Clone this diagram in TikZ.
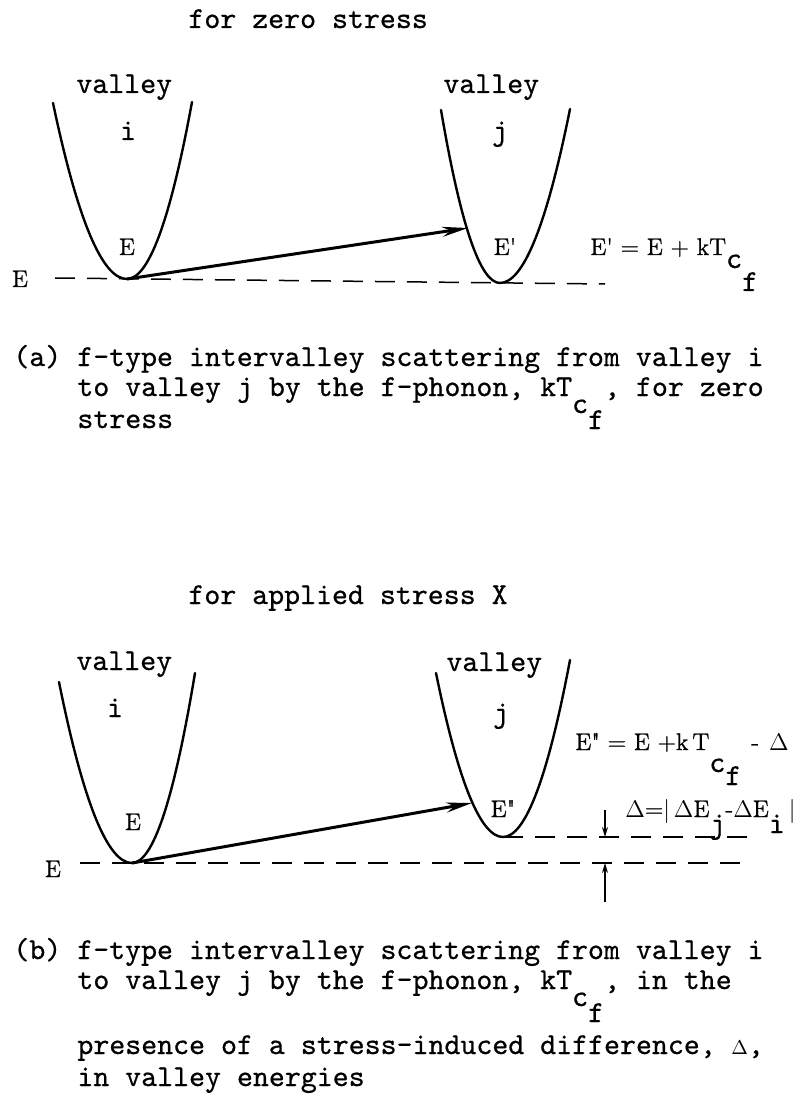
\documentclass[tikz,border=0pt]{standalone}
\usepackage{fontspec}
\usetikzlibrary{arrows.meta}

\newfontfamily\twfam{lmmono10-regular.otf}[FakeBold=0.6]
\newfontfamily\eqfam{lmroman12-regular.otf}[FakeBold=1.0]
\newcommand{\twfont}{\twfam\fontsize{15.2}{18}\selectfont}
\newcommand{\eqfont}{\eqfam\fontsize{12}{14}\selectfont}
% lowered typewriter letter (subscripts)
\newcommand{\lowtw}[2]{\raisebox{-#1}{\twfont #2}}

\tikzset{
    % Valley curves
    valleyline/.style={
        line width=1.2pt,
        line cap=round
    },
    % Energy levels
    levelline/.style={
        line width=0.75pt,
        dash pattern=on 10pt off 6pt
    },
    % Scattering arrow
    hoparrow/.style={
        -{Stealth[length=13pt,width=5pt]},
        line width=1.5pt
    },
    % Gap arrows
    gaparrow/.style={
        -{Stealth[length=5pt,width=3pt]},
        line width=0.6pt
    },
    % Typewriter text
    twtext/.style={
        inner sep=0pt,
        font=\twfont
    },
    % Equation text
    eqtext/.style={
        inner sep=0pt,
        font=\eqfont
    }
}

\begin{document}
\begin{tikzpicture}[x=0.5pt, y=-0.5pt]
\useasboundingbox (0,0) rectangle (807,1096);

% === (a) ZERO STRESS ===
\node[twtext, anchor=base west] (titleA) at (188,28) {for zero stress};

% Valley i
\coordinate (iAleft) at (53,103);
\coordinate (iAbot) at (127,279);
\coordinate (iAright) at (192,102);
\draw[valleyline] (iAleft) .. controls (77.7,220.3) and (102.3,279) .. (iAbot)
    .. controls (148.7,279) and (170.3,220) .. (iAright);

% Valley j
\coordinate (jAleft) at (441,110);
\coordinate (jAbot) at (500,283);
\coordinate (jAright) at (570,109);
\coordinate (jAhit) at (468,228);
\draw[valleyline] (jAleft) .. controls (460.7,225.3) and (480.3,283) .. (jAbot)
    .. controls (523.3,283) and (546.7,225) .. (jAright);

% Labels
\node[twtext, anchor=base west] (valAi) at (76,93) {valley};
\node[twtext, anchor=base west] (valAj) at (443,93) {valley};
\node[twtext, anchor=base] (nameAi) at (128,140) {i};
\node[twtext, anchor=base] (nameAj) at (500,140) {j};
\node[eqtext, anchor=base] (EAi) at (127,255) {E};
\node[eqtext, anchor=base] (EAj) at (505,255) {E\textquotesingle};
\node[eqtext, anchor=base] (EAlev) at (20,287) {E};
\node[eqtext, anchor=base west] (eqA) at (590,255)
    {E\textquotesingle{} = E + kT\lowtw{6.5pt}{c}\lowtw{18pt}{f}};

% Level and scattering
\coordinate (levAstart) at (55,278);
\coordinate (levAend) at (605,284);
\draw[levelline] (levAstart) -- (levAend);
\draw[hoparrow] (iAbot) -- (jAhit);

% Caption (a)
\node[twtext, anchor=base west] (capA1) at (13,366) {(a) f-type intervalley scattering from valley i};
\node[twtext, anchor=base west] (capA2) at (77,396) {to valley j by the f-phonon, kT\lowtw{8.5pt}{c}\lowtw{16.5pt}{f}, for zero};
\node[twtext, anchor=base west] (capA3) at (77,428) {stress};

% === (b) APPLIED STRESS ===
\node[twtext, anchor=base west] (titleB) at (188,604) {for applied stress X};

% Valley i
\coordinate (iBleft) at (59,682);
\coordinate (iBbot) at (132,863);
\coordinate (iBright) at (195,673);
\draw[valleyline] (iBleft) .. controls (83.3,802.7) and (107.7,863) .. (iBbot)
    .. controls (153,863) and (174,799.7) .. (iBright);

% Valley j
\coordinate (jBleft) at (436,673);
\coordinate (jBbot) at (503,837);
\coordinate (jBright) at (570,660);
\coordinate (jBhit) at (472,803);
\draw[valleyline] (jBleft) .. controls (458.3,782.3) and (480.7,837) .. (jBbot)
    .. controls (525.3,837) and (547.7,778) .. (jBright);

% Labels
\node[twtext, anchor=base west] (valBi) at (76,670) {valley};
\node[twtext, anchor=base west] (valBj) at (446,671) {valley};
\node[twtext, anchor=base] (nameBi) at (115,717) {i};
\node[twtext, anchor=base] (nameBj) at (501,722) {j};
\node[eqtext, anchor=base] (EBi) at (133,830) {E};
\node[eqtext, anchor=base] (EBj) at (503,817) {E\textquotedbl};
\node[eqtext, anchor=base] (EBlev) at (53,877) {E};
\node[eqtext, anchor=base west] (eqB) at (575,750)
    {E\textquotedbl{} = E +k\,T\lowtw{11pt}{c}\lowtw{17.5pt}{f}\hspace{5pt}-\hspace{5pt}$\Delta$};
\node[eqtext, anchor=base west] (gapB) at (625,817)
    {$\Delta$=$|$\,$\Delta$E\lowtw{8pt}{j}-$\Delta$E\lowtw{8pt}{i}\,$|$};

% Levels, gap and scattering
\coordinate (levBstart) at (80,863);
\coordinate (levBend) at (750,863);
\coordinate (levCend) at (748,837);
\draw[levelline] (levBstart) -- (levBend);
\draw[levelline] (jBbot) -- (levCend);
\draw[hoparrow] (iBbot) -- (jBhit);

\coordinate (gapTop) at (605,810);
\coordinate (gapUpper) at (605,837);
\coordinate (gapBottom) at (605,902);
\coordinate (gapLower) at (605,863);
\draw[gaparrow] (gapTop) -- (gapUpper);
\draw[gaparrow] (gapBottom) -- (gapLower);

% Caption (b)
\node[twtext, anchor=base west] (capB1) at (13,959) {(b) f-type intervalley scattering from valley i};
\node[twtext, anchor=base west] (capB2) at (77,989) {to valley j by the f-phonon, kT\lowtw{8.5pt}{c}\lowtw{16.5pt}{f}, in the};
\node[twtext, anchor=base west] (capB3) at (77,1054) {presence of a stress-induced difference, \makebox[8pt]{\fontsize{10}{12}\selectfont$\Delta$},};
\node[twtext, anchor=base west] (capB4) at (77,1086) {in valley energies};

\end{tikzpicture}
\end{document}
